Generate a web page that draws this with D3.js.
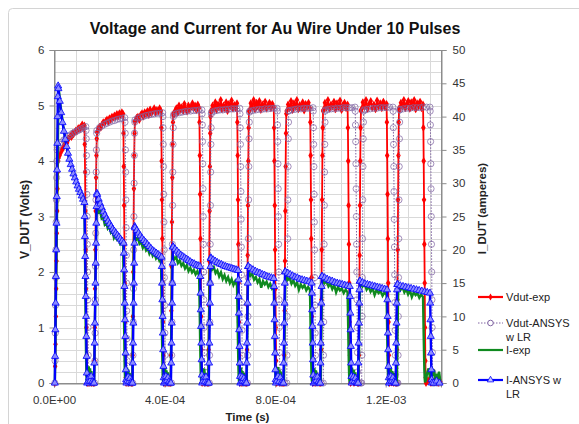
<!DOCTYPE html>
<html>
<head>
<meta charset="utf-8">
<script src="https://cdn.jsdelivr.net/npm/d3@7"></script>
<style>
  body { margin: 0; background: #fff; }
  svg { font-family: "Liberation Sans", Arial, sans-serif; }
</style>
</head>
<body>
<div id="chart"></div>
<script>
// time values are in microseconds, voltages in V, currents in A

// pulse edges (start / end of each of the 10 pulses)
const expOn   = [3, 145, 283, 422, 558, 697, 832, 965, 1102, 1240];
const expOff  = [110, 250, 387, 525, 662, 795, 926, 1062, 1203, 1335];
const simVOn  = [3, 147, 285, 425, 562, 700, 842, 974, 1113, 1244];
const simVOff = [115, 256, 393, 535, 672, 807, 937, 1089, 1226, 1360];
const simIOn  = [3, 145, 284, 423, 560, 696, 830, 963, 1100, 1236];
const simIOff = [110, 252, 389, 528, 666, 795, 932, 1070, 1205, 1360];

// Vdut-exp (V)
const vExpRise = [
  [0, 0.3, 0.7, 1.2, 1.7, 2.2, 2.7, 3.1, 3.5, 3.8, 4.0],
  [0, 0.4, 1.0, 1.7, 2.4, 3.1, 3.7, 4.1, 4.4],
  [0, 0.5, 1.2, 2.0, 2.8, 3.5, 4.1, 4.5, 4.7],
  [0, 0.5, 1.3, 2.1, 2.9, 3.7, 4.3, 4.7, 4.85],
  [0, 0.6, 1.4, 2.2, 3.1, 3.9, 4.5, 4.8, 4.9],
  [0, 0.6, 1.4, 2.3, 3.2, 4.0, 4.6, 4.9],
  [0, 0.5, 1.3, 2.2, 3.1, 3.9, 4.5, 4.85],
  [0, 0.6, 1.5, 2.4, 3.3, 4.1, 4.6, 4.9],
  [0, 0.5, 1.4, 2.3, 3.2, 4.0, 4.6, 4.9],
  [0, 0.6, 1.5, 2.4, 3.3, 4.1, 4.7, 4.95]
];
const vExpTop = [
  [4.05, 4.1, 4.15, 4.2, 4.22, 4.28, 4.3, 4.35, 4.33, 4.4, 4.42, 4.45, 4.43, 4.5, 4.48, 4.52, 4.55, 4.53, 4.58, 4.6, 4.57, 4.62, 4.66, 4.6, 4.64],
  [4.52, 4.58, 4.62, 4.6, 4.66, 4.7, 4.68, 4.72, 4.75, 4.7, 4.77, 4.74, 4.8, 4.78, 4.82, 4.79, 4.85, 4.8, 4.86, 4.83, 4.88, 4.85],
  [4.72, 4.78, 4.8, 4.74, 4.83, 4.86, 4.8, 4.88, 4.84, 4.9, 4.83, 4.93, 4.86, 4.9, 4.95, 4.87, 4.92, 4.89, 4.95, 4.9],
  [4.82, 4.9, 4.95, 4.87, 5.0, 4.92, 4.97, 4.9, 5.03, 4.94, 4.89, 5.0, 4.93, 4.98, 5.04, 4.95, 5.0, 4.92, 5.02, 4.96],
  [4.88, 5.0, 4.94, 5.06, 4.92, 5.02, 4.97, 5.1, 4.93, 5.0, 4.95, 5.06, 4.9, 5.03, 4.98, 5.09, 4.94, 5.01, 4.96, 5.04],
  [4.9, 5.04, 4.96, 5.1, 4.93, 5.05, 4.98, 5.08, 4.92, 5.02, 4.97, 5.07, 4.94, 5.0, 5.05, 4.95, 5.03, 4.97],
  [4.9, 5.02, 4.95, 5.08, 4.92, 5.04, 4.98, 5.1, 4.93, 5.01, 4.96, 5.06, 4.91, 5.03, 4.97, 5.05, 4.95],
  [4.92, 5.05, 4.96, 5.1, 4.94, 5.02, 4.98, 5.07, 4.93, 5.04, 4.97, 5.09, 4.92, 5.01, 5.05, 4.95, 5.02],
  [4.93, 5.06, 4.97, 5.1, 4.94, 5.03, 5.08, 4.96, 5.02, 4.93, 5.09, 4.98, 5.04, 4.95, 5.07, 4.97, 5.03],
  [4.92, 5.05, 4.98, 5.1, 4.95, 5.03, 5.08, 4.94, 5.06, 4.97, 5.1, 4.93, 5.04, 4.98, 5.07, 4.95, 5.02]
];
const vExpFall = [
  [4.3, 3.8, 3.1, 2.4, 1.7, 1.0, 0.5, 0.15, 0],
  [4.5, 3.9, 3.2, 2.5, 1.8, 1.1, 0.5, 0.1, 0],
  [4.6, 4.0, 3.3, 2.6, 1.8, 1.1, 0.5, 0.1, 0],
  [4.7, 4.1, 3.4, 2.6, 1.9, 1.2, 0.6, 0.15, 0],
  [4.7, 4.1, 3.3, 2.5, 1.8, 1.1, 0.5, 0.1, 0],
  [4.6, 4.0, 3.2, 2.4, 1.7, 1.0, 0.4, 0.1, 0],
  [4.7, 4.1, 3.3, 2.6, 1.9, 1.2, 0.5, 0.1, 0],
  [4.6, 4.0, 3.2, 2.5, 1.8, 1.1, 0.5, 0.1, 0],
  [4.7, 4.1, 3.4, 2.6, 1.8, 1.1, 0.5, 0.1, 0],
  [4.6, 4.0, 3.3, 2.5, 1.8, 1.0, 0.4, 0.1, 0]
];
const vExpLow = [
  [0.03, 0, 0.06, 0.02, 0, 0.05, 0],
  [0.02, 0.05, 0, 0.04, 0.01, 0],
  [0.04, 0, 0.03, 0.06, 0, 0.02, 0],
  [0.02, 0.06, 0, 0.03, 0.05, 0],
  [0.05, 0, 0.02, 0.06, 0.01, 0],
  [0.03, 0.05, 0, 0.04, 0, 0],
  [0.04, 0, 0.06, 0.02, 0.03, 0],
  [0.02, 0.05, 0, 0.03, 0.06, 0],
  [0.05, 0.01, 0.04, 0, 0.03, 0],
  [0.03, 0.06, 0, 0.04, 0.02, 0.05, 0, 0.03]
];

// Vdut-ANSYS w LR (V)
const vSimRise = [
  [0, 0.4, 0.9, 1.4, 1.9, 2.4, 2.9, 3.3, 3.7, 4.0, 4.2],
  [0, 0.4, 0.9, 1.5, 2.1, 2.7, 3.3, 3.8, 4.2, 4.5],
  [0, 0.5, 1.1, 1.7, 2.4, 3.0, 3.6, 4.1, 4.5, 4.7],
  [0, 0.5, 1.1, 1.8, 2.5, 3.2, 3.8, 4.3, 4.6, 4.8],
  [0, 0.5, 1.1, 1.8, 2.5, 3.2, 3.8, 4.3, 4.6, 4.85],
  [0, 0.5, 1.2, 1.9, 2.6, 3.3, 3.9, 4.4, 4.7, 4.88],
  [0, 0.5, 1.2, 1.9, 2.6, 3.3, 3.9, 4.4, 4.7, 4.9],
  [0, 0.5, 1.1, 1.8, 2.5, 3.2, 3.8, 4.3, 4.7, 4.9],
  [0, 0.5, 1.2, 1.9, 2.6, 3.3, 3.9, 4.4, 4.7, 4.9],
  [0, 0.5, 1.2, 1.9, 2.6, 3.3, 3.9, 4.4, 4.7, 4.92]
];
const vSimTop = [
  [4.25, 4.3, 4.34, 4.38, 4.41, 4.44, 4.47, 4.5, 4.52, 4.54, 4.56, 4.58, 4.6, 4.62],
  [4.55, 4.6, 4.63, 4.66, 4.68, 4.7, 4.72, 4.73, 4.75, 4.76, 4.77, 4.78],
  [4.74, 4.77, 4.79, 4.8, 4.82, 4.83, 4.84, 4.85, 4.86, 4.86, 4.87],
  [4.84, 4.86, 4.87, 4.88, 4.89, 4.9, 4.9, 4.91, 4.91, 4.92, 4.92],
  [4.88, 4.9, 4.91, 4.92, 4.92, 4.93, 4.93, 4.94, 4.94, 4.94, 4.95],
  [4.9, 4.91, 4.92, 4.93, 4.93, 4.94, 4.94, 4.95, 4.95, 4.95],
  [4.91, 4.92, 4.93, 4.94, 4.94, 4.95, 4.95, 4.95, 4.96],
  [4.92, 4.93, 4.94, 4.94, 4.95, 4.95, 4.96, 4.96, 4.96, 4.96, 4.97],
  [4.92, 4.93, 4.94, 4.95, 4.95, 4.96, 4.96, 4.96, 4.97, 4.97],
  [4.93, 4.94, 4.95, 4.95, 4.96, 4.96, 4.96, 4.97, 4.97, 4.97]
];
const vSimFall = [
  [4.55, 4.4, 4.1, 3.8, 3.4, 3.0, 2.5, 2.0, 1.5, 1.0, 0.5, 0.15, 0],
  [4.7, 4.5, 4.2, 3.8, 3.3, 2.8, 2.3, 1.8, 1.3, 0.8, 0.4, 0.1, 0],
  [4.8, 4.6, 4.3, 3.9, 3.4, 2.9, 2.4, 1.9, 1.4, 0.9, 0.5, 0.15, 0],
  [4.85, 4.65, 4.35, 3.95, 3.5, 3.0, 2.5, 2.0, 1.5, 1.0, 0.55, 0.2, 0],
  [4.85, 4.6, 4.3, 3.9, 3.45, 2.95, 2.45, 1.95, 1.45, 0.95, 0.5, 0.15, 0],
  [4.9, 4.65, 4.35, 3.95, 3.5, 3.0, 2.5, 2.0, 1.5, 1.0, 0.55, 0.2, 0],
  [4.9, 4.6, 4.3, 3.9, 3.4, 2.9, 2.4, 1.9, 1.4, 0.9, 0.5, 0.15, 0],
  [4.9, 4.65, 4.35, 3.95, 3.5, 3.0, 2.5, 2.0, 1.5, 1.0, 0.55, 0.2, 0],
  [4.9, 4.6, 4.3, 3.9, 3.45, 2.95, 2.45, 1.95, 1.45, 0.95, 0.5, 0.15, 0],
  [4.9, 4.65, 4.35, 3.95, 3.5, 3.0, 2.5, 2.0, 1.5, 1.0, 0.55, 0.2, 0]
];
const vSimLow = [[0, 0], [0, 0], [0, 0], [0, 0], [0, 0], [0, 0], [0, 0], [0, 0], [0, 0], [0, 0, 0]];

// I-exp (A)
const iExpRise = [
  [0, 3, 7, 11, 15, 19, 23, 27, 31, 35, 39, 42, 44],
  [0, 3, 7, 11, 15, 19, 22, 24.5, 26],
  [0, 4, 9, 14, 18, 21, 22],
  [0, 4, 9, 13, 17, 19],
  [0, 4, 8, 12, 15.5, 17.5],
  [0, 4, 8, 12, 15, 16.5],
  [0, 4, 8, 12, 15, 16],
  [0, 4, 8, 11, 14, 15.5],
  [0, 4, 8, 11, 14, 15],
  [0, 3, 7, 10, 13, 14.5]
];
const iExpTop = [
  [43.6, 41.8, 40.2, 38.7, 37.5, 36.2, 35.2, 34.1, 33.3, 32.4, 31.8, 31.0, 30.5, 29.8, 29.3, 28.7, 28.3, 27.6, 27.3, 26.8],
  [26.3, 25.6, 25.8, 24.7, 24.9, 23.8, 24.1, 23.2, 23.5, 22.6, 22.9, 21.8, 22.3, 21.6, 21.9, 21.0, 21.4, 20.6],
  [22.2, 21.5, 21.8, 20.9, 21.2, 20.3, 20.8, 19.9, 20.2, 19.4, 19.9, 19.1, 19.5, 18.7, 19.1, 18.4, 18.8],
  [19.3, 18.6, 18.9, 18.0, 18.4, 17.6, 18.0, 17.2, 17.7, 16.8, 17.3, 16.6, 17.0, 16.3, 16.8, 16.1],
  [17.8, 17.0, 17.4, 16.5, 16.9, 16.0, 16.6, 15.6, 16.2, 15.3, 15.9, 15.0, 15.6, 14.7, 15.3, 14.6],
  [16.8, 16.1, 16.4, 15.5, 15.9, 15.1, 15.6, 14.3, 15.3, 14.8, 15.2, 14.4, 14.9, 14.2, 14.6],
  [16.2, 15.5, 15.8, 14.9, 15.4, 14.6, 15.1, 14.0, 14.8, 14.3, 14.7, 13.9, 14.4, 14.0],
  [15.7, 15.0, 15.3, 14.5, 14.9, 14.1, 14.7, 13.6, 14.4, 13.9, 14.2, 13.5, 14.0, 13.6],
  [15.2, 14.5, 14.9, 14.0, 14.5, 13.7, 14.2, 13.2, 14.0, 13.5, 13.8, 13.1, 13.6, 13.2],
  [14.7, 14.0, 14.4, 13.6, 14.1, 13.3, 13.9, 12.9, 13.6, 13.2, 13.5, 12.8, 13.3, 12.9]
];
const iExpFall = [
  [23, 18, 13, 8, 4, 1.5, 0.3],
  [17, 13, 9, 5, 2, 0.5],
  [15, 11, 7.5, 4, 1.5, 0.3],
  [13, 10, 6.5, 3.5, 1.2, 0.2],
  [12, 9, 6, 3, 1, 0.2],
  [11.5, 8.5, 5.5, 3, 1, 0.2],
  [11, 8, 5, 2.5, 0.8, 0.2],
  [11, 8, 5, 2.5, 0.8, 0.1],
  [10.5, 7.5, 4.5, 2.2, 0.7, 0.1],
  [10, 7, 4.5, 2, 0.6, 0.1]
];
const iExpLow = [
  [0.4, 1.9, 2.5, 1.3, 2.2, 0.7, 1.8, 0.3, 0.9, 0],
  [0.6, 1.7, 2.3, 1.0, 2.0, 0.5, 1.5, 0.4, 0.8, 0],
  [0.5, 1.8, 2.4, 1.1, 1.9, 0.6, 1.6, 0.2, 0.7, 0],
  [0.3, 1.6, 2.2, 1.2, 2.1, 0.5, 1.4, 0.3, 0.8, 0],
  [0.5, 1.9, 2.3, 0.9, 1.8, 0.7, 1.5, 0.2, 0.6, 0],
  [0.4, 1.7, 2.4, 1.1, 2.0, 0.6, 1.7, 0.3, 0.9, 0],
  [0.6, 1.8, 2.2, 1.0, 1.9, 0.5, 1.3, 0.4, 0.7, 0],
  [0.4, 1.6, 2.3, 1.2, 2.0, 0.6, 1.6, 0.2, 0.8, 0],
  [0.5, 1.8, 2.4, 1.0, 1.8, 0.7, 1.5, 0.3, 0.6, 0],
  [0.5, 1.6, 2.2, 0.8, 1.9, 1.1, 2.0, 0.4, 1.4, 0.6, 1.7, 0.3]
];

// I-ANSYS w LR (A)
const iSimRise = [
  [0, 4, 8, 12, 16, 20, 24, 28, 32, 36, 40, 43, 44.6],
  [0, 3, 6, 9, 12, 15, 18, 21, 24, 26.5, 28.5],
  [0, 3, 6, 9, 12, 15, 18, 21, 23.5],
  [0, 3, 6, 9, 12, 15, 18, 20.5],
  [0, 3, 6, 9, 12, 15, 17.5, 18.8],
  [0, 3, 6, 9, 12, 15, 17.5],
  [0, 3, 6, 9, 12, 15, 16.7],
  [0, 3, 6, 9, 12, 14.5, 16],
  [0, 3, 6, 9, 12, 14, 15.3],
  [0, 3, 6, 9, 12, 14, 14.8]
];
const iSimTop = [
  [44.2, 42.3, 40.6, 39.1, 37.8, 36.6, 35.5, 34.5, 33.6, 32.8, 32.1, 31.4, 30.8, 30.2, 29.6, 29.1, 28.6, 28.1, 27.6, 27.1],
  [28.3, 27.6, 26.9, 26.3, 25.7, 25.2, 24.7, 24.3, 23.9, 23.5, 23.1, 22.8, 22.5, 22.2, 21.9, 21.6, 21.3, 21.0],
  [23.3, 22.9, 22.5, 22.1, 21.7, 21.4, 21.1, 20.8, 20.5, 20.2, 19.9, 19.7, 19.5, 19.3, 19.1, 18.9],
  [20.4, 20.1, 19.8, 19.5, 19.2, 19.0, 18.8, 18.6, 18.4, 18.2, 18.0, 17.9, 17.7, 17.6, 17.5],
  [18.7, 18.5, 18.3, 18.1, 17.9, 17.8, 17.6, 17.5, 17.4, 17.3, 17.2, 17.1, 17.0, 16.9],
  [17.5, 17.2, 17.0, 16.8, 16.6, 16.5, 16.3, 16.2, 16.0, 15.9, 15.8, 15.7],
  [16.7, 16.5, 16.3, 16.1, 15.9, 15.8, 15.6, 15.5, 15.4, 15.3, 15.2, 15.0],
  [16.0, 15.8, 15.6, 15.4, 15.3, 15.1, 15.0, 14.9, 14.8, 14.7, 14.6, 14.5],
  [15.3, 15.1, 14.9, 14.8, 14.7, 14.6, 14.5, 14.4, 14.3, 14.2, 14.1, 14.0],
  [14.8, 14.6, 14.5, 14.4, 14.3, 14.2, 14.1, 14.0, 13.9, 13.8, 13.7, 13.6, 13.5]
];
const iSimFall = [
  [25, 22, 19, 16, 13, 10, 7, 4, 1.5, 0],
  [19.5, 17, 14.5, 12, 9.5, 7, 4.5, 2, 0.5, 0],
  [17.5, 15, 12.5, 10, 7.5, 5, 2.5, 0.8, 0],
  [16, 13.5, 11, 8.5, 6, 3.5, 1.2, 0],
  [15.5, 13, 10.5, 8, 5.5, 3, 1, 0],
  [14.5, 12, 9.5, 7, 4.5, 2, 0.5, 0],
  [13.5, 11, 8.5, 6, 3.5, 1.2, 0],
  [13, 10.5, 8, 5.5, 3, 1, 0],
  [12.5, 10, 7.5, 5, 2.5, 0.8, 0],
  [12, 9.5, 7, 4.5, 2, 0.5, 0]
];
const iSimLow = [
  [0.2, 0.8, 0.3, 1.0, 0.2, 0],
  [0.3, 0.9, 0.2, 0.7, 0.1, 0],
  [0.2, 1.0, 0.4, 0.8, 0.2, 0],
  [0.3, 0.8, 0.2, 0.9, 0.1, 0],
  [0.2, 0.9, 0.3, 0.7, 0.2, 0],
  [0.3, 1.0, 0.2, 0.8, 0.1, 0],
  [0.2, 0.8, 0.4, 0.9, 0.2, 0],
  [0.3, 0.9, 0.2, 0.7, 0.1, 0],
  [0.2, 1.0, 0.3, 0.8, 0.2, 0],
  [0, 0.3, 0]
];

const xTicks = [0, 400, 800, 1200];
const legendNames = ["Vdut-exp", "Vdut-ANSYS\nw LR", "I-exp", "I-ANSYS w\nLR"];

/*
    Turn one series' pulse lists into [time, value] points.
    rise/fall samples sit one sample step apart, plateau and off-time
    samples are spread over the gaps between the edges
*/
function buildSeries(on, off, rise, top, fall, low, step, tEnd) {
    const pts = [];
    on.forEach((t0, i) => {
        rise[i].forEach((v, k) => pts.push([t0 + k * step, v]));
        const a = t0 + rise[i].length * step, b = off[i];
        top[i].forEach((v, k, arr) => pts.push([a + (b - a) * k / (arr.length - 1), v]));
        fall[i].forEach((v, k) => pts.push([b + (k + 1) * step, v]));
        const c = b + (fall[i].length + 1) * step;
        const d = i + 1 < on.length ? on[i + 1] - step : tEnd;
        low[i].forEach((v, k, arr) => pts.push([c + (d - c) * (k + 0.5) / arr.length, v]));
    });
    return pts;
}

const vExp = buildSeries(expOn, expOff, vExpRise, vExpTop, vExpFall, vExpLow, 1.2, 1400);
const vSim = buildSeries(simVOn, simVOff, vSimRise, vSimTop, vSimFall, vSimLow, 0.8, 1400);
const iExp = buildSeries(expOn, expOff, iExpRise, iExpTop, iExpFall, iExpLow, 1.2, 1400);
const iSim = buildSeries(simIOn, simIOff, iSimRise, iSimTop, iSimFall, iSimLow, 1.0, 1400);

const width = 579, height = 424;
const plot = { left: 54, right: 441, top: 50, bottom: 383 };

const svg = d3.select("#chart").append("svg")
    .attr("width", width)
    .attr("height", height);

// chart area frame
svg.append("rect")
    .attr("x", 8.5).attr("y", 8.5)
    .attr("width", 640).attr("height", 500)
    .attr("rx", 4)
    .attr("fill", "#fff")
    .attr("stroke", "#d4d4d4");

const x = d3.scaleLinear().domain([0, 1400]).range([plot.left, plot.right]);
const yV = d3.scaleLinear().domain([0, 6]).range([plot.bottom, plot.top]);
const yI = d3.scaleLinear().domain([0, 50]).range([plot.bottom, plot.top]);

// gridlines
const grid = svg.append("g").attr("stroke", "#d9d9d9").attr("stroke-width", 1);
grid.selectAll(".hg")
    .data(d3.range(1, 30).map(k => k * 0.2))
    .enter().append("line")
    .attr("x1", plot.left).attr("x2", plot.right)
    .attr("y1", d => Math.round(yV(d)) + 0.5)
    .attr("y2", d => Math.round(yV(d)) + 0.5);
grid.selectAll(".vg")
    .data(d3.range(80, 1400, 80))
    .enter().append("line")
    .attr("y1", plot.top).attr("y2", plot.bottom)
    .attr("x1", d => Math.round(x(d)) + 0.5)
    .attr("x2", d => Math.round(x(d)) + 0.5);

svg.append("rect")
    .attr("x", plot.left + 0.5).attr("y", plot.top + 0.5)
    .attr("width", plot.right - plot.left).attr("height", plot.bottom - plot.top)
    .attr("fill", "none")
    .attr("stroke", "#8c8c8c");

// axes
function sciFormat(us) {
    if (us === 0) return "0.0E+00";
    const s = us * 1e-6;
    const e = Math.floor(Math.log10(s));
    const m = (s / Math.pow(10, e)).toFixed(1);
    return m + "E" + (e < 0 ? "-" : "+") + String(Math.abs(e)).padStart(2, "0");
}

function styleAxis(g) {
    g.selectAll(".domain").attr("stroke", "#8c8c8c");
    g.selectAll(".tick line").attr("stroke", "#8c8c8c");
    g.selectAll(".tick text")
        .attr("fill", "#333")
        .style("font-size", "11.5px")
        .style("font-family", '"Liberation Sans", Arial, sans-serif');
}

svg.append("g")
    .attr("transform", `translate(${plot.left + 0.5},0)`)
    .call(d3.axisLeft(yV).tickValues(d3.range(0, 7)).tickFormat(d3.format("d")).tickSize(5).tickPadding(5))
    .call(styleAxis);

svg.append("g")
    .attr("transform", `translate(${plot.right + 0.5},0)`)
    .call(d3.axisRight(yI).tickValues(d3.range(0, 55, 5)).tickSize(5).tickPadding(6))
    .call(styleAxis);

svg.append("g")
    .attr("transform", `translate(0,${plot.bottom + 0.5})`)
    .call(d3.axisBottom(x).tickValues(xTicks).tickFormat(sciFormat).tickSize(4).tickPadding(8))
    .call(styleAxis);

// series
const lineV = d3.line().x(d => x(d[0])).y(d => yV(d[1]));
const lineI = d3.line().x(d => x(d[0])).y(d => yI(d[1]));

const redCol = "#ff0000", purpleCol = "#8064a2", greenCol = "#0f8a1f", blueCol = "#0000ff";

svg.append("path").datum(vExp)
    .attr("d", lineV).attr("fill", "none")
    .attr("stroke", redCol).attr("stroke-width", 1.8);
svg.append("g").selectAll("path")
    .data(vExp).enter().append("path")
    .attr("transform", d => `translate(${x(d[0])},${yV(d[1])})`)
    .attr("d", d3.symbol(d3.symbolDiamond, 18))
    .attr("fill", redCol);

svg.append("path").datum(vSim)
    .attr("d", lineV).attr("fill", "none")
    .attr("stroke", purpleCol).attr("stroke-width", 1)
    .attr("stroke-dasharray", "1.5,1.5");
svg.append("g").selectAll("circle")
    .data(vSim).enter().append("circle")
    .attr("cx", d => x(d[0])).attr("cy", d => yV(d[1]))
    .attr("r", 3.1)
    .attr("fill", "none")
    .attr("stroke", purpleCol).attr("stroke-opacity", 0.8).attr("stroke-width", 0.9);

svg.append("path").datum(iExp)
    .attr("d", lineI).attr("fill", "none")
    .attr("stroke", greenCol).attr("stroke-width", 2.4);

svg.append("path").datum(iSim)
    .attr("d", lineI).attr("fill", "none")
    .attr("stroke", blueCol).attr("stroke-width", 2.4);
svg.append("g").selectAll("path")
    .data(iSim).enter().append("path")
    .attr("transform", d => `translate(${x(d[0])},${yI(d[1])})`)
    .attr("d", d3.symbol(d3.symbolTriangle, 22))
    .attr("fill", "#8c8cff")
    .attr("stroke", blueCol).attr("stroke-width", 0.8);

// titles
svg.append("text")
    .attr("x", 275).attr("y", 34)
    .attr("text-anchor", "middle")
    .style("font-size", "16px").style("font-weight", "bold")
    .attr("fill", "#111")
    .text("Voltage and Current for Au Wire Under 10 Pulses");

svg.append("text")
    .attr("transform", `translate(25,${(plot.top + plot.bottom) / 2 + 3}) rotate(-90)`)
    .attr("text-anchor", "middle").attr("dy", "0.35em")
    .style("font-size", "12px").style("font-weight", "bold")
    .attr("fill", "#222")
    .text("V_DUT (Volts)");

svg.append("text")
    .attr("transform", `translate(482,${(plot.top + plot.bottom) / 2 - 8}) rotate(-90)`)
    .attr("text-anchor", "middle").attr("dy", "0.35em")
    .style("font-size", "11.5px").style("font-weight", "bold")
    .attr("fill", "#222")
    .text("I_DUT (amperes)");

svg.append("text")
    .attr("x", (plot.left + plot.right) / 2).attr("y", 421)
    .attr("text-anchor", "middle")
    .style("font-size", "11.5px").style("font-weight", "bold")
    .attr("fill", "#222")
    .text("Time (s)");

// legend
const legendY = [297, 323, 350, 380];
const legend = svg.append("g");
legendNames.forEach((name, i) => {
    const y = legendY[i];
    const col = [redCol, purpleCol, greenCol, blueCol][i];
    legend.append("line")
        .attr("x1", 478).attr("x2", 503).attr("y1", y).attr("y2", y)
        .attr("stroke", col)
        .attr("stroke-width", i === 1 ? 1 : 2.2)
        .attr("stroke-dasharray", i === 1 ? "1.5,1.5" : null);
    if (i === 0) {
        legend.append("path").attr("transform", `translate(490.5,${y})`)
            .attr("d", d3.symbol(d3.symbolDiamond, 14)).attr("fill", redCol);
    } else if (i === 1) {
        legend.append("circle").attr("cx", 490.5).attr("cy", y).attr("r", 2.8)
            .attr("fill", "#fff").attr("stroke", purpleCol);
    } else if (i === 3) {
        legend.append("path").attr("transform", `translate(490.5,${y})`)
            .attr("d", d3.symbol(d3.symbolTriangle, 18))
            .attr("fill", "#c8c8ff").attr("stroke", blueCol).attr("stroke-width", 0.8);
    }
    name.split("\n").forEach((line, j) => {
        legend.append("text")
            .attr("x", 506).attr("y", y + j * 14)
            .attr("dy", "0.35em")
            .style("font-size", "11px")
            .attr("fill", "#222")
            .text(line);
    });
});
</script>
</body>
</html>
